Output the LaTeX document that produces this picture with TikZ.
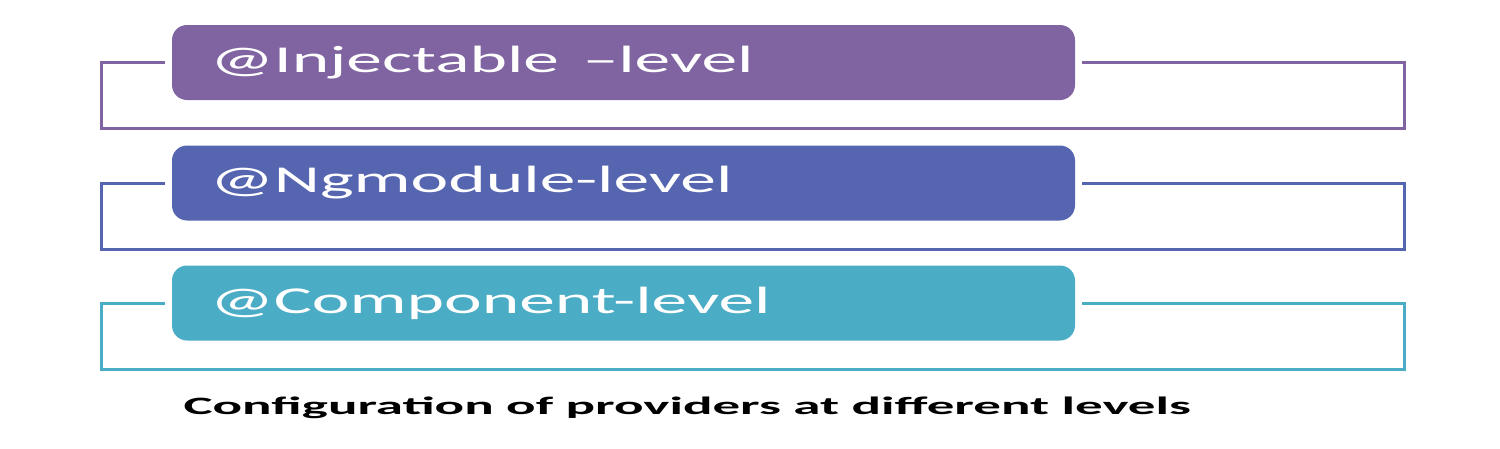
\documentclass[tikz,border=0pt]{standalone}
\usepackage{fontspec}
\setmainfont{Carlito}
\usepackage{tikz}

\definecolor{injcol}{RGB}{128,100,162}
\definecolor{ngmcol}{RGB}{85,101,176}
\definecolor{cmpcol}{RGB}{75,172,198}
\newcommand{\wide}[2][1.88]{\scalebox{#1}[1]{#2}}

\begin{document}
\begin{tikzpicture}[x=1pt,y=-1pt,
  level/.style={rectangle,rounded corners=15pt,fill=#1,text=white,minimum width=903pt,minimum height=75pt,
    text width=827pt,inner xsep=38pt,align=left,font=\fontsize{38}{40}\selectfont},
  frame/.style={draw=#1,line width=3pt}]
\useasboundingbox (0,0) rectangle (1500,448);
\node [level=injcol] (inj) at (623.5,62.5) {\wide{@Injectable –level}};
\node [level=ngmcol] (ngm) at (623.5,183) {\wide{@Ngmodule-level}};
\node [level=cmpcol] (cmp) at (623.5,303) {\wide{@Component-level}};
\draw [frame=injcol] ([xshift=-7pt]inj.west) -- ++(-63,0) -- ++(0,66) -- ++(1303,0) -- ++(0,-66) -- ([xshift=7pt]inj.east);
\draw [frame=ngmcol] ([xshift=-7pt]ngm.west) -- ++(-63,0) -- ++(0,66) -- ++(1303,0) -- ++(0,-66) -- ([xshift=7pt]ngm.east);
\draw [frame=cmpcol] ([xshift=-7pt]cmp.west) -- ++(-63,0) -- ++(0,66) -- ++(1303,0) -- ++(0,-66) -- ([xshift=7pt]cmp.east);
\node [anchor=base west,font=\bfseries\fontsize{25}{27}\selectfont] (cap) at (180,414) {\wide[2.2]{Configuration of providers at different levels}};
\end{tikzpicture}
\end{document}
